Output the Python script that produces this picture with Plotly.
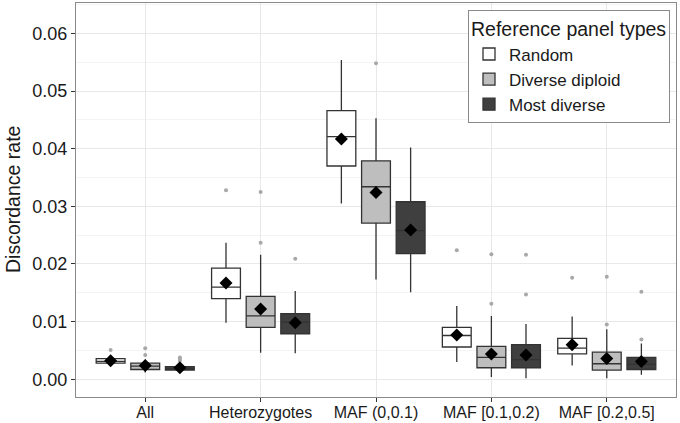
import plotly.graph_objects as go

categories = ["All", "Heterozygotes", "MAF (0,0.1)", "MAF [0.1,0.2)", "MAF [0.2,0.5]"]
groups = ["Random", "Diverse diploid", "Most diverse"]

# Random
rand_lower = [0.0027, 0.0098, 0.0305, 0.0030, 0.0024]
rand_q1 = [0.0028, 0.0140, 0.0370, 0.0056, 0.0044]
rand_median = [0.0031, 0.0160, 0.0421, 0.0076, 0.0054]
rand_q3 = [0.0036, 0.0193, 0.0466, 0.0090, 0.0071]
rand_upper = [0.0039, 0.0237, 0.0554, 0.0127, 0.0109]
rand_mean = [0.0032, 0.0167, 0.0417, 0.0077, 0.0060]
rand_out = [[0.0051], [0.0328], [], [0.0224], [0.0176]]

# Diverse diploid
dip_lower = [0.0012, 0.0046, 0.0173, 0.0004, 0.0002]
dip_q1 = [0.0017, 0.0090, 0.0271, 0.0020, 0.0016]
dip_median = [0.0023, 0.0110, 0.0334, 0.0038, 0.0027]
dip_q3 = [0.0028, 0.0144, 0.0379, 0.0057, 0.0047]
dip_upper = [0.0034, 0.0216, 0.0453, 0.0110, 0.0087]
dip_mean = [0.0024, 0.0122, 0.0324, 0.0044, 0.0036]
dip_out = [[0.0054, 0.0042], [0.0325, 0.0237], [0.0548], [0.0217, 0.0131], [0.0178, 0.0095]]

# Most diverse
most_lower = [0.0012, 0.0045, 0.0151, 0.0002, 0.0008]
most_q1 = [0.0016, 0.0079, 0.0218, 0.0020, 0.0017]
most_median = [0.0018, 0.0099, 0.0258, 0.0034, 0.0026]
most_q3 = [0.0022, 0.0114, 0.0308, 0.0060, 0.0038]
most_upper = [0.0030, 0.0153, 0.0402, 0.0096, 0.0062]
most_mean = [0.0020, 0.0098, 0.0259, 0.0042, 0.0031]
most_out = [[0.0038, 0.0035, 0.0032], [0.0209], [], [0.0216, 0.0147], [0.0152, 0.0069]]

y_ticks = [0.00, 0.01, 0.02, 0.03, 0.04, 0.05, 0.06]

series = [
    (rand_lower, rand_q1, rand_median, rand_q3, rand_upper, rand_mean, rand_out),
    (dip_lower, dip_q1, dip_median, dip_q3, dip_upper, dip_mean, dip_out),
    (most_lower, most_q1, most_median, most_q3, most_upper, most_mean, most_out),
]
fills = ["#ffffff", "#bebebe", "#3f3f3f"]
offsets = [-0.3, 0.0, 0.3]
edge = "#333333"

fig = go.Figure()
for g, (name, s, fill, off) in enumerate(zip(groups, series, fills, offsets)):
    lo, q1, med, q3, up, mean, outs = s
    xs = [i + 1 + off for i in range(len(categories))]
    fig.add_trace(go.Box(
        x=xs, lowerfence=lo, q1=q1, median=med, q3=q3, upperfence=up,
        width=0.25, name=name, fillcolor=fill, boxpoints=False,
        line=dict(color=edge, width=1.3), whiskerwidth=0,
        hoverinfo="skip",
    ))
for g, (s, off) in enumerate(zip(series, offsets)):
    lo, q1, med, q3, up, mean, outs = s
    xs = [i + 1 + off for i in range(len(categories))]
    ox, oy = [], []
    for i, vals in enumerate(outs):
        for v in vals:
            ox.append(xs[i])
            oy.append(v)
    fig.add_trace(go.Scatter(
        x=ox, y=oy, mode="markers", showlegend=False,
        marker=dict(color="#a8a8a8", size=4), hoverinfo="skip",
    ))
    fig.add_trace(go.Scatter(
        x=xs, y=mean, mode="markers", showlegend=False,
        marker=dict(color="black", size=10, symbol="diamond"), hoverinfo="skip",
    ))

font = "Liberation Sans, Arial, sans-serif"
fig.update_layout(
    width=680, height=423,
    margin=dict(l=76, r=4, t=3, b=26),
    paper_bgcolor="white", plot_bgcolor="white",
    font=dict(family=font, color="#1a1a1a"),
    boxmode="overlay",
    legend=dict(
        x=0.99, y=0.982, xanchor="right", yanchor="top",
        bgcolor="white", bordercolor="#8a8a8a", borderwidth=1,
        title=dict(text="Reference panel types", font=dict(size=19.5)),
        font=dict(size=17), tracegroupgap=0, itemwidth=30,
    ),
    xaxis=dict(
        range=[0.4, 5.6], tickvals=[1, 2, 3, 4, 5], ticktext=categories,
        showgrid=True, gridcolor="#e8e8e8", gridwidth=1,
        ticks="outside", ticklen=4, tickcolor="#333333",
        tickfont=dict(size=16, color="#1a1a1a"), ticklabelstandoff=-3,
        showline=True, linecolor="#8a8a8a", mirror=True, zeroline=False,
        automargin=False,
    ),
    yaxis=dict(
        range=[-0.00307, 0.06527], tickvals=y_ticks, tickformat=".2f",
        showgrid=True, gridcolor="#e8e8e8", gridwidth=1,
        minor=dict(tickvals=[0.005, 0.015, 0.025, 0.035, 0.045, 0.055, 0.065],
                   showgrid=True, gridcolor="#f4f4f4", ticks=""),
        ticks="outside", ticklen=4, tickcolor="#333333",
        tickfont=dict(size=18, color="#1a1a1a"),
        showline=True, linecolor="#8a8a8a", mirror=True, zeroline=False,
        automargin=False,
    ),
    annotations=[dict(
        text="Discordance rate", textangle=-90, showarrow=False,
        xref="paper", yref="paper", x=-76 / 600, y=0.5, xanchor="left", yanchor="middle",
        font=dict(size=19.5, color="#1a1a1a"),
    )],
)
fig.write_html("out.html", config={"displayModeBar": False},
               post_script="document.body.style.margin='0';document.body.style.padding='0';")
